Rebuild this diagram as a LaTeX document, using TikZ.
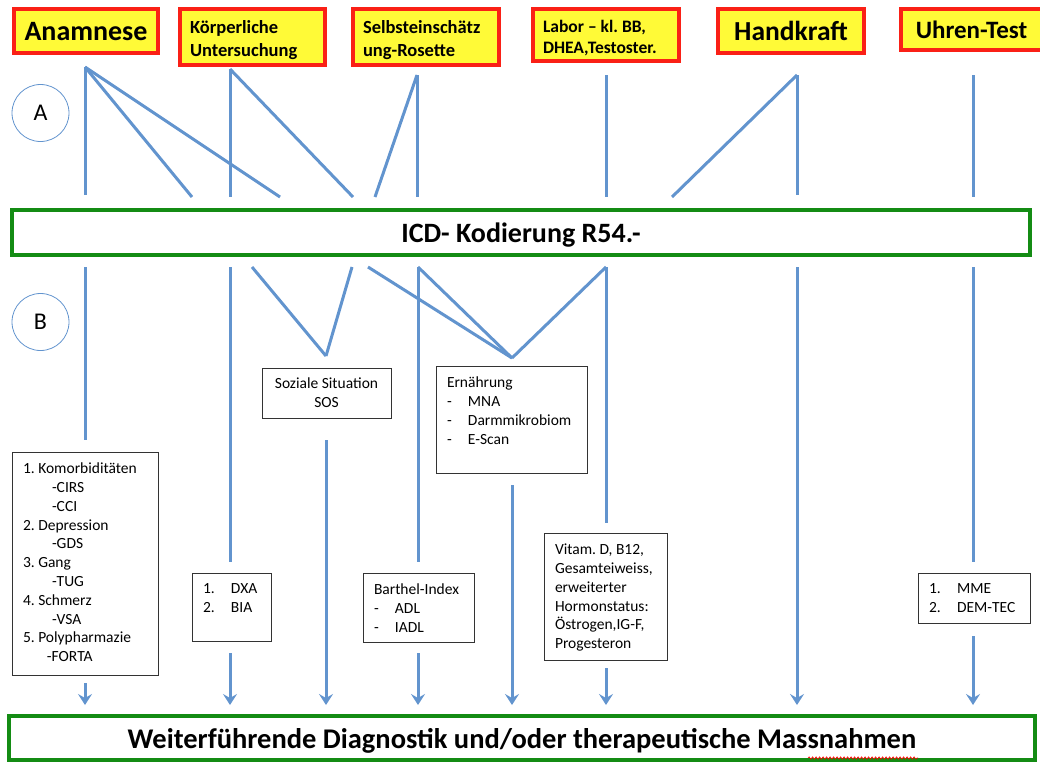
\documentclass[tikz,border=0pt]{standalone}
\usepackage{fontspec}
\setmainfont{Carlito}
\usetikzlibrary{arrows.meta,decorations.pathmorphing}
\frenchspacing
\definecolor{linkblue}{RGB}{98,148,206}
\definecolor{redline}{RGB}{250,32,22}
\definecolor{yellowbg}{RGB}{255,250,55}
\definecolor{greenline}{RGB}{20,140,20}
\newcommand{\boxlines}[3]{\begin{minipage}[c][#2][t]{#1}\fontsize{15.5}{18.8}\selectfont #3\end{minipage}}
\newcommand{\headlines}[2]{\begin{minipage}{#1}\vspace*{6pt}#2\end{minipage}}
\newcommand{\numitem}[2]{\makebox[28pt][l]{#1}#2}
\newcommand{\dashitem}[1]{\makebox[21pt][l]{-}#1}
\tikzset{
  headbox/.style={draw=redline, line width=3.8pt, fill=yellowbg, inner xsep=10pt, inner ysep=0pt},
  stagebox/.style={draw=greenline, line width=4pt, fill=white, text depth=0pt},
  infobox/.style={draw=black!80, line width=0.9pt, fill=white, inner sep=11pt},
  marker/.style={circle, draw=linkblue, line width=0.8pt, minimum size=57pt, inner sep=0pt, font=\fontsize{24}{28}\selectfont},
  link/.style={draw=linkblue, line width=3pt},
  flow/.style={link, shorten >=9pt, -{Stealth[length=11pt,width=14pt,inset=4pt]}},
  spellwave/.style={draw=red, line width=0.6pt, decorate, decoration={snake, amplitude=1.2pt, segment length=3.5pt}}
}

\begin{document}
\begin{tikzpicture}[x=1pt, y=-1pt]
	\useasboundingbox (0,0) rectangle (1040,763);
	
	% Kopfzeile
	\node[headbox, minimum width=144pt, minimum height=44pt, text depth=0pt, font=\bfseries\fontsize{28}{32}\selectfont] (anamnese) at (86,31) {Anamnese};
	\node[headbox, minimum height=56pt, font=\bfseries\fontsize{18.5}{23}\selectfont] (koerper) at (252.5,37) {\headlines{125pt}{Körperliche\\Untersuchung}};
	\node[headbox, minimum height=56pt, font=\bfseries\fontsize{18.5}{23}\selectfont] (selbst) at (426,37) {\headlines{126pt}{Selbsteinschätz\\ung-Rosette}};
	\node[headbox, minimum height=52pt, font=\bfseries\fontsize{17.5}{21}\selectfont] (labor) at (606,35) {\headlines{126pt}{Labor – kl. BB,\\DHEA,Testoster.}};
	\node[headbox, minimum width=146pt, minimum height=44pt, text depth=0pt, font=\bfseries\fontsize{27.5}{32}\selectfont] (handkraft) at (791,31) {Handkraft};
	\node[headbox, minimum width=141pt, minimum height=41pt, text depth=0pt, font=\bfseries\fontsize{25}{30}\selectfont] (uhren) at (971.5,29.5) {Uhren-Test};
	
	\node[marker] (markA) at (40.5,113) {A};
	\node[marker] (markB) at (40.5,322) {B};
	
	\node[stagebox, minimum width=1018pt, minimum height=45pt, font=\bfseries\fontsize{28}{32}\selectfont] (icd) at (521,232.5) {ICD- Kodierung R54.-};
	\node[stagebox, minimum width=1026pt, minimum height=44pt, font=\bfseries\fontsize{28.5}{32}\selectfont] (result) at (522,738) {Weiterführende Diagnostik und/oder therapeutische Massnahmen};
	\coordinate (waveL) at (808,758);
	\coordinate (waveR) at (918,758);
	\draw[spellwave] (waveL) -- (waveR);
	
	% Kaestchen B
	\node[infobox] (komorb) at (85,563.5) {\boxlines{124pt}{201pt}{1. Komorbiditäten\\
		\hspace*{29pt}-CIRS\\
		\hspace*{29pt}-CCI\\
		2. Depression\\
		\hspace*{29pt}-GDS\\
		3. Gang\\
		\hspace*{29pt}-TUG\\
		4. Schmerz\\
		\hspace*{29pt}-VSA\\
		5. Polypharmazie\\
		\hspace*{24pt}-FORTA}};
	\node[infobox] (dxa) at (231.5,607) {\boxlines{57pt}{46pt}{\numitem{1.}{DXA}\\\numitem{2.}{BIA}}};
	\node[infobox, minimum width=129pt, minimum height=50pt, inner sep=2pt, align=center, font=\fontsize{15.5}{18.8}\selectfont] (soziale) at (326.5,393) {Soziale Situation\\SOS};
	\node[infobox] (ernaehr) at (511.5,419.5) {\boxlines{129pt}{85pt}{Ernährung\\\dashitem{MNA}\\\dashitem{Darmmikrobiom}\\\dashitem{E-Scan}}};
	\node[infobox] (barthel) at (418.5,607.5) {\boxlines{89pt}{47pt}{Barthel-Index\\\dashitem{ADL}\\\dashitem{IADL}}};
	\node[infobox] (vitam) at (605.5,596.5) {\boxlines{101pt}{105pt}{Vitam. D, B12,\\Gesamteiweiss,\\erweiterter\\Hormonstatus:\\Östrogen,IG-F,\\Progesteron}};
	\node[infobox] (mme) at (974,598) {\boxlines{90pt}{28pt}{\numitem{1.}{MME}\\\numitem{2.}{DEM-TEC}}};
	
	% Linien A
	\coordinate (aAna) at (85,67);
	\coordinate (aKoe) at (230,69);
	\coordinate (aSel) at (417,75);
	\coordinate (aLab) at (606,75);
	\coordinate (aHan) at (797,75);
	\coordinate (aUhr) at (973,75);
	\coordinate (eA1) at (85,195);
	\coordinate (eA2) at (192,197);
	\coordinate (eA3) at (280,197);
	\coordinate (eK1) at (230,197);
	\coordinate (eK2) at (353,197);
	\coordinate (eS1) at (375,197);
	\coordinate (eS2) at (417,197);
	\coordinate (eL1) at (606,197);
	\coordinate (eH1) at (797,195);
	\coordinate (eH2) at (672,197);
	\coordinate (eU1) at (973,197);
	\draw[link] (aAna) -- (eA1);
	\draw[link] (aAna) -- (eA2);
	\draw[link] (aAna) -- (eA3);
	\draw[link] (aKoe) -- (eK1);
	\draw[link] (aKoe) -- (eK2);
	\draw[link] (aSel) -- (eS1);
	\draw[link] (aSel) -- (eS2);
	\draw[link] (aLab) -- (eL1);
	\draw[link] (aHan) -- (eH1);
	\draw[link] (aHan) -- (eH2);
	\draw[link] (aUhr) -- (eU1);
	
	% Linien B
	\coordinate (s85) at (85,267);
	\coordinate (s230) at (230,267);
	\coordinate (s252) at (252,267);
	\coordinate (s352) at (352,267);
	\coordinate (s368) at (368,267);
	\coordinate (s418) at (418,267);
	\coordinate (s606) at (606,267);
	\coordinate (s797) at (797,267);
	\coordinate (s973) at (973,267);
	\coordinate (vSoz) at (326,356);
	\coordinate (vErn) at (512,358);
	\coordinate (m85) at (85,440);
	\coordinate (m230) at (230,562);
	\coordinate (m418) at (418,562);
	\coordinate (m606) at (606,523);
	\coordinate (m973) at (973,562);
	\coordinate (l85) at (85,683);
	\coordinate (l230) at (230,653);
	\coordinate (l326) at (326,440);
	\coordinate (l418) at (418,653);
	\coordinate (l512) at (512,485);
	\coordinate (l606) at (606,668);
	\coordinate (l973) at (973,636);
	\draw[link] (s85) -- (m85);
	\draw[link] (s230) -- (m230);
	\draw[link] (s252) -- (vSoz);
	\draw[link] (s352) -- (vSoz);
	\draw[link] (s368) -- (vErn);
	\draw[link] (s418) -- (vErn);
	\draw[link] (s606) -- (vErn);
	\draw[link] (s418) -- (m418);
	\draw[link] (s606) -- (m606);
	\draw[link] (s973) -- (m973);
	
	% Pfeile zum Ergebnis
	\draw[flow] (l85) -- (l85 |- result.north);
	\draw[flow] (l230) -- (l230 |- result.north);
	\draw[flow] (l326) -- (l326 |- result.north);
	\draw[flow] (l418) -- (l418 |- result.north);
	\draw[flow] (l512) -- (l512 |- result.north);
	\draw[flow] (l606) -- (l606 |- result.north);
	\draw[flow] (s797) -- (s797 |- result.north);
	\draw[flow] (l973) -- (l973 |- result.north);
\end{tikzpicture}
\end{document}
